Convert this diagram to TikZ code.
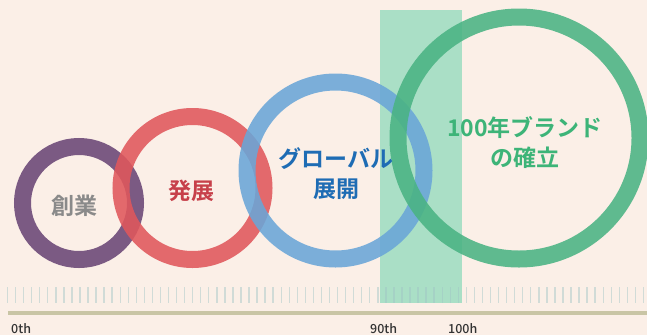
\documentclass[tikz,border=0pt]{standalone}
\usepackage{fontspec}
\newfontfamily\jpb{Noto Sans CJK JP Bold}
\newfontfamily\lbl{Noto Sans CJK JP Medium}
\definecolor{bg}{HTML}{FBEFE7}
\definecolor{cpurple}{HTML}{6A4676}
\definecolor{cred}{HTML}{E0575C}
\definecolor{cblue}{HTML}{6AA6D8}
\definecolor{cgreen}{HTML}{4AB383}
\definecolor{trect}{HTML}{AADFC6}
\definecolor{tpurple}{HTML}{8A8A8A}
\definecolor{tred}{HTML}{C7404A}
\definecolor{tblue}{HTML}{1E6CB4}
\definecolor{tgreen}{HTML}{3DB478}
\definecolor{tick}{HTML}{9FC4C4}
\definecolor{bar}{HTML}{C9C5A5}
\tikzset{
  ring/.style={line width=17pt, opacity=0.88},
  biglabel/.style={font=\jpb\fontsize{23}{30}\selectfont, align=center, inner sep=0pt},
  axislabel/.style={font=\lbl\fontsize{12.5}{14}\selectfont, text=black!80, inner sep=0pt, anchor=north west}
}
\begin{document}
\begin{tikzpicture}[x=1pt,y=-1pt]
\fill[bg] (0,0) rectangle (647,335);
\useasboundingbox (0,0) rectangle (647,335);
% highlight band
\fill[trect] (380,10) rectangle (462,303);
% ticks
\foreach \i in {0,...,79} {
  \draw[tick, line width=1.4pt, opacity=0.45] ({7.5+8.05*\i},287) -- ({7.5+8.05*\i},303);
}
\fill[bar] (8,311) rectangle (647,315);
% rings
\draw[ring, cpurple] (79,203) circle (56.5);
\draw[ring, cred] (192.5,188) circle (71.5);
\draw[ring, cblue] (335.5,170.5) circle (88.5);
\draw[ring, cgreen] (519,138) circle (121);
% labels
\node[biglabel, text=tpurple] (l1) at (74,206) {創業};
\node[biglabel, text=tred] (l2) at (191,191) {発展};
\node[biglabel, text=tblue] (l3) at (336,174) {グローバル\\展開};
\node[biglabel, text=tgreen] (l4) at (525,143) {100年ブランド\\の確立};
\node[axislabel] (a0) at (11,323) {0th};
\node[axislabel] (a90) at (370,323) {90th};
\node[axislabel] (a100) at (448,323) {100h};
\end{tikzpicture}
\end{document}
